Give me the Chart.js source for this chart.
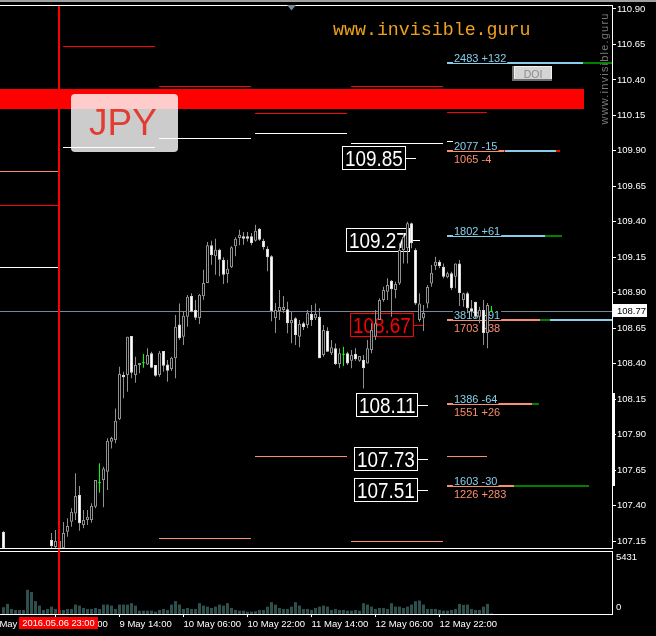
<!DOCTYPE html>
<html>
<head>
<meta charset="utf-8">
<title>USDJPY H1</title>
<script src="https://cdn.jsdelivr.net/npm/chart.js@4.4.1/dist/chart.umd.min.js"></script>
<style>
  html, body { margin: 0; padding: 0; background: #000; }
  #wrap { position: relative; width: 656px; height: 636px; overflow: hidden; background: #000; }
  canvas { position: absolute; left: 0; }
  #main { top: 0; }
  #vol { top: 549px; }
</style>
</head>
<body>
<div id="wrap">
  <canvas id="main" width="656" height="549"></canvas>
  <canvas id="vol" width="656" height="87"></canvas>
</div>
<script>
// bar 0 = 2016.05.06 23:00 (H1), first stored bar is -14
const FIRST_BAR = -14;

const opens = [107.214, null, null, null, null, null, null, null, null, null, null, null, 107.157, 107.108,
  107.094, 107.101, 107.216, 107.286, 107.345, 107.474, 107.263, 107.298, 107.298, 107.392,
  107.561, 107.580, 107.638, 107.850, 107.862, 108.008, 108.320, 108.320, 108.595, 108.320,
  108.391, 108.407, 108.395, 108.473, 108.391, 108.320, 108.489, 108.395, 108.362, 108.438,
  108.677, 108.590, 108.731, 108.877, 108.778, 108.722, 108.875, 108.968, 109.234, 109.157,
  109.203, 109.133, 109.032, 109.079, 109.227, 109.286, 109.298, 109.298, 109.298, 109.267,
  109.351, 109.267, 109.210, 109.157, 108.722, 108.771, 108.778, 108.783, 108.685, 108.720,
  108.590, 108.685, 108.673, 108.750, 108.720, 108.731, 108.461, 108.632, 108.473, 108.508,
  108.398, 108.466, 108.473, 108.421, 108.468, 108.421, 108.426, 108.402, 108.496, 108.590,
  108.708, 108.849, 108.907, 108.985, 108.919, 108.966, 109.201, 109.213, 109.389, 109.201,
  108.708, 108.720, 108.825, 108.966, 109.088, 109.119, 109.083, 109.009, 109.037, 109.013,
  109.107, 108.849, 108.896, 108.790, 108.837, 108.731, 108.778, 108.616, 108.770];
const highs = [107.221, null, null, null, null, null, null, null, null, null, null, null, 107.206, 107.228,
  107.185, 107.284, 107.310, 107.381, 107.627, 107.538, 107.369, 107.369, 107.416, 107.580,
  107.698, 107.674, 107.874, 107.885, 108.085, 108.379, 108.343, 108.590, 108.595, 108.449,
  108.405, 108.468, 108.508, 108.484, 108.391, 108.489, 108.489, 108.426, 108.449, 108.743,
  108.825, 108.771, 108.884, 108.896, 108.849, 108.891, 109.062, 109.257, 109.267, 109.281,
  109.210, 109.150, 109.133, 109.227, 109.291, 109.344, 109.328, 109.328, 109.321, 109.379,
  109.356, 109.281, 109.227, 109.164, 108.827, 108.919, 108.877, 108.837, 108.766, 108.727,
  108.708, 108.696, 108.778, 108.814, 108.825, 108.790, 108.673, 108.656, 108.567, 108.543,
  108.508, 108.520, 108.484, 108.496, 108.508, 108.454, 108.461, 108.567, 108.685, 108.778,
  108.861, 108.943, 109.002, 108.990, 108.978, 109.248, 109.319, 109.401, 109.394, 109.213,
  108.896, 108.814, 108.954, 109.095, 109.154, 109.131, 109.107, 109.048, 109.048, 109.107,
  109.131, 108.900, 108.907, 108.849, 108.837, 108.802, 108.849, 108.827, 108.806];
const lows = [107.094, null, null, null, null, null, null, null, null, null, null, null, 107.087, 107.094,
  107.073, 107.087, 107.180, 107.251, 107.298, 107.223, 107.240, 107.263, 107.279, 107.381,
  107.491, 107.388, 107.510, 107.803, 107.839, 108.003, 108.156, 108.202, 108.297, 108.266,
  108.332, 108.372, 108.391, 108.367, 108.308, 108.308, 108.343, 108.273, 108.348, 108.297,
  108.567, 108.532, 108.660, 108.762, 108.708, 108.680, 108.851, 108.968, 109.098, 109.027,
  109.016, 108.962, 108.968, 109.074, 109.157, 109.234, 109.238, 109.262, 109.234, 109.262,
  109.267, 109.203, 109.051, 108.699, 108.616, 108.708, 108.757, 108.614, 108.544, 108.531,
  108.515, 108.637, 108.649, 108.666, 108.708, 108.438, 108.449, 108.484, 108.461, 108.391,
  108.367, 108.383, 108.391, 108.367, 108.421, 108.414, 108.226, 108.402, 108.473, 108.567,
  108.708, 108.837, 108.849, 108.731, 108.861, 108.954, 109.107, 109.107, 109.213, 108.813,
  108.696, 108.630, 108.790, 108.943, 109.060, 109.072, 109.002, 109.002, 108.919, 108.931,
  108.807, 108.802, 108.755, 108.731, 108.720, 108.685, 108.532, 108.509, 108.765];
const closes = [107.101, null, null, null, null, null, null, null, null, null, null, null, 107.115, 107.150,
  107.150, 107.206, 107.256, 107.357, 107.467, 107.275, 107.298, 107.321, 107.399, 107.580,
  107.561, 107.662, 107.857, 107.876, 107.998, 108.327, 108.304, 108.590, 108.336, 108.391,
  108.405, 108.407, 108.461, 108.372, 108.315, 108.477, 108.386, 108.350, 108.442, 108.660,
  108.579, 108.738, 108.872, 108.766, 108.724, 108.886, 108.968, 109.234, 109.164, 109.203,
  109.133, 109.027, 109.069, 109.220, 109.281, 109.309, 109.281, 109.281, 109.250, 109.337,
  109.274, 109.220, 109.150, 108.769, 108.778, 108.799, 108.799, 108.685, 108.708, 108.602,
  108.680, 108.656, 108.759, 108.708, 108.750, 108.438, 108.637, 108.484, 108.515, 108.398,
  108.473, 108.466, 108.402, 108.461, 108.431, 108.454, 108.367, 108.508, 108.637, 108.685,
  108.849, 108.919, 108.954, 108.924, 108.962, 109.201, 109.295, 109.389, 109.248, 108.825,
  108.825, 108.757, 108.940, 109.041, 109.119, 109.088, 109.013, 109.037, 108.931, 109.107,
  108.898, 108.896, 108.790, 108.766, 108.731, 108.778, 108.616, 108.814, 108.770];
const volumes = [584, 872, 436, 349, 349, 349, 2093, 1892, 1107, 724, 349, 436, 637, 436,
  349, 349, 436, 436, 811, 724, 523, 436, 436, 523,
  436, 811, 811, 724, 436, 811, 811, 811, 933, 724,
  288, 288, 288, 288, 200, 349, 436, 349, 811, 1107,
  811, 436, 523, 436, 436, 933, 724, 637, 523, 637,
  811, 724, 933, 523, 349, 288, 288, 200, 200, 235,
  349, 349, 637, 1020, 811, 523, 436, 436, 637, 1020,
  724, 436, 436, 349, 523, 637, 724, 637, 349, 436,
  349, 349, 288, 288, 349, 288, 933, 811, 637, 436,
  523, 523, 436, 933, 637, 637, 523, 637, 811, 1107,
  1160, 811, 436, 436, 436, 349, 288, 288, 349, 436,
  872, 785, 811, 436, 349, 349, 637, 872, 61];

const priceTicks = [107.15, 107.40, 107.65, 107.90, 108.15, 108.40, 108.65, 108.90,
  109.15, 109.40, 109.65, 109.90, 110.15, 110.40, 110.65, 110.90];
const timeTicks = [-17, -1, 15, 31, 47, 63, 79, 95];
const timeLabels = ['6 May 06:00', '6 May 22:00', '9 May 14:00', '10 May 06:00',
  '10 May 22:00', '11 May 14:00', '12 May 06:00', '12 May 22:00'];
const lastPrice = 108.77;
const volMax = 5431;
const markerBar = 0;
const markerLabel = '2016.05.06 23:00';

// daily levels (one per session)
const dayFirst = [-23, 1, 25, 49, 73, 97];
const dayLast = [0, 24, 48, 72, 96, 107];
const redLevels = [109.518, 110.637, 110.355, 110.160, 110.355, 110.169];
const whiteLevels = [109.079, 109.927, 109.990, 110.024, 109.953, 109.964];
const salmonLevels = [109.756, null, 107.169, 107.747, 107.148, 107.747];

// option open interest by strike
const oiStrikes = [110.517, 109.901, 109.302, 108.710, 108.118, 107.538];
const callOI = [2483, 2077, 1802, 3813, 1386, 1603];
const callChg = [132, -15, 61, 91, -64, -30];
const putOI = [null, 1065, null, 1703, 1551, 1226];
const putChg = [null, -4, null, 38, 26, 283];

// price marks
const markPrices = [109.85, 109.27, 108.67, 108.11, 107.73, 107.51];
const markBars = [89, 90, 91, 92, 92, 92];
const hitPrice = 108.67;

const zoneHigh = 110.336, zoneLow = 110.195, zoneEndBar = 131;

// view
const X_MIN = -14.875, X_MAX = 138.125;
const Y_MIN = 107.101, Y_MAX = 110.928;
const OI_START_BAR = 97;        // OI histogram grows to the right from this bar
const OI_BARS_PER_LOT = 0.01365;
const CHG_GAIN = 4.85;

const SKY = '#87ceeb', SALMON = '#fa8e6e', GREEN = '#008000', RED = '#ff0000', LIME = '#00ff00';
const FONT = '"Liberation Sans", Arial, sans-serif';
Chart.defaults.font.family = FONT;
Chart.defaults.color = '#fff';

const barIndex = opens.map((_, k) => FIRST_BAR + k);

const wickData = [], dojiWickData = [], bullData = [], bearData = [], dojiData = [];
barIndex.forEach((x, k) => {
  if (opens[k] === null) return;
  const doji = opens[k] === closes[k];
  (doji ? dojiWickData : wickData).push({ x, y: [lows[k], highs[k]] });
  if (doji) dojiData.push({ x, y: opens[k] });
  else (closes[k] > opens[k] ? bullData : bearData).push({ x, y: [opens[k], closes[k]] });
});

const datasets = [
  { type: 'bar', label: 'wicks', data: wickData, backgroundColor: '#909090',
    barThickness: 1, grouped: false, inflateAmount: 0, borderWidth: 0, order: 10 },
  { type: 'bar', label: 'dojiWicks', data: dojiWickData, backgroundColor: LIME,
    barThickness: 1, grouped: false, inflateAmount: 0, borderWidth: 0, order: 9 },
  { type: 'bar', label: 'bear', data: bearData, backgroundColor: '#ffffff', borderColor: '#d8d8d8',
    borderWidth: 1, borderSkipped: false, barThickness: 3, grouped: false, inflateAmount: 0, order: 8 },
  { type: 'bar', label: 'bull', data: bullData, backgroundColor: '#000000', borderColor: '#909090',
    borderWidth: 1, borderSkipped: false, barThickness: 3, grouped: false, inflateAmount: 0, order: 8 },
  { type: 'line', label: 'doji', data: dojiData, showLine: false, pointStyle: 'line',
    pointRadius: 1.5, pointBorderColor: LIME, borderColor: LIME, pointBorderWidth: 1, order: 7 }
];

function signed(v) { return v > 0 ? '+' + v : String(v); }
function oiBar(lots) { return OI_START_BAR + lots * OI_BARS_PER_LOT; }

// horizontal level from data units, snapped to whole pixels
function hline(ctx, a, x0, x1, yPx, color, width) {
  const l = Math.max(a.left, Math.floor(x0));
  const r = Math.min(a.right, Math.floor(x1));
  if (r <= l) return;
  ctx.fillStyle = color;
  ctx.fillRect(l, Math.round(yPx - width / 2), r - l, width);
}

function oiLabel(ctx, text, tx, base, color) {
  const w = ctx.measureText(text).width;
  ctx.fillStyle = '#000';
  ctx.fillRect(tx - 1, base - 10, w + 2, 11);
  ctx.fillStyle = color;
  ctx.fillText(text, tx, base);
}

function priceMark(ctx, xPx, yPx, text, color) {
  ctx.font = '22px ' + FONT;
  const w = Math.round(ctx.measureText(text).width * 0.86 + 6);
  const cy = Math.round(yPx);
  const right = Math.round(xPx) - 10;
  const left = right - w;
  const top = cy - 12;
  ctx.fillStyle = '#000';
  ctx.fillRect(left, top, w, 24);
  ctx.strokeStyle = color;
  ctx.lineWidth = 1;
  ctx.strokeRect(left + 0.5, top + 0.5, w - 1, 23);
  ctx.beginPath();
  ctx.moveTo(right, cy + 0.5);
  ctx.lineTo(Math.round(xPx), cy + 0.5);
  ctx.stroke();
  ctx.save();
  ctx.translate(left + 3, top + 20);
  ctx.scale(0.86, 1);
  ctx.fillStyle = color;
  ctx.textBaseline = 'alphabetic';
  ctx.fillText(text, 0, 0);
  ctx.restore();
}

const mainDecor = {
  id: 'mainDecor',
  beforeDatasetsDraw(chart) {
    const { ctx, chartArea: a, scales: { x, y } } = chart;
    ctx.save();
    // supply zone
    const yt = Math.round(y.getPixelForValue(zoneHigh)), yb = Math.round(y.getPixelForValue(zoneLow));
    ctx.fillStyle = RED;
    ctx.fillRect(a.left, yt, Math.round(x.getPixelForValue(zoneEndBar)) - a.left, yb - yt);
    // daily levels
    [[redLevels, RED], [whiteLevels, '#ffffff'], [salmonLevels, SALMON]].forEach(([levels, color]) => {
      levels.forEach((v, d) => {
        if (v === null) return;
        hline(ctx, a, x.getPixelForValue(dayFirst[d]), x.getPixelForValue(dayLast[d]), y.getPixelForValue(v), color, 1);
      });
    });
    // last price
    hline(ctx, a, a.left, a.right, y.getPixelForValue(lastPrice), '#778899', 1);
    // open interest bars
    const px = lots => x.getPixelForValue(oiBar(lots));
    oiStrikes.forEach((s, k) => {
      const py = y.getPixelForValue(s);
      const c1 = callOI[k] + callChg[k] * CHG_GAIN;
      hline(ctx, a, px(0), px(callOI[k]), py, SKY, 2);
      hline(ctx, a, px(Math.min(callOI[k], c1)), px(Math.max(callOI[k], c1)), py, callChg[k] >= 0 ? GREEN : RED, 2);
      if (putOI[k] === null) return;
      const p1 = putOI[k] + putChg[k] * CHG_GAIN;
      hline(ctx, a, px(0), px(putOI[k]), py, SALMON, 2);
      hline(ctx, a, px(Math.min(putOI[k], p1)), px(Math.max(putOI[k], p1)), py, putChg[k] >= 0 ? GREEN : RED, 2);
    });
    ctx.restore();
  },
  beforeDatasetDraw(chart, args) {
    if (chart.data.datasets[args.index].label !== 'wicks') return;
    const { ctx, scales: { x, y } } = chart;
    ctx.save();
    markPrices.forEach((p, k) => {
      priceMark(ctx, x.getPixelForValue(markBars[k]), y.getPixelForValue(p), p.toFixed(2), p === hitPrice ? RED : '#ffffff');
    });
    const tx = Math.round(x.getPixelForValue(oiBar(0))) + 6;
    ctx.font = '11px ' + FONT;
    ctx.textBaseline = 'alphabetic';
    oiStrikes.forEach((s, k) => {
      const ly = Math.round(y.getPixelForValue(s));
      oiLabel(ctx, callOI[k] + ' ' + signed(callChg[k]), tx, ly - 1, SKY);
      if (putOI[k] !== null) oiLabel(ctx, putOI[k] + ' ' + signed(putChg[k]), tx, ly + 12, SALMON);
    });
    ctx.restore();
  },
  afterDatasetsDraw(chart) {
    const { ctx, chartArea: a, scales: { x, y } } = chart;
    ctx.save();
    // JPY tag
    ctx.fillStyle = 'rgba(255,255,255,0.8)';
    ctx.beginPath();
    ctx.roundRect(71, 94, 107, 58, 4);
    ctx.fill();
    ctx.fillStyle = '#e23b32';
    ctx.font = '37px ' + FONT;
    ctx.textBaseline = 'alphabetic';
    ctx.fillText('JPY', 89, 135);
    // site name
    ctx.fillStyle = '#eea21a';
    ctx.font = '18.3px "Liberation Mono", monospace';
    ctx.fillText('www.invisible.guru', 333, 35);
    // vertical watermark
    ctx.save();
    ctx.translate(607.5, 124.5);
    ctx.rotate(-Math.PI / 2);
    ctx.fillStyle = '#7a7a7a';
    ctx.font = '11px ' + FONT;
    ctx.letterSpacing = '1.2px';
    ctx.fillText('www.invisible.guru', 0, 0);
    ctx.restore();
    // DOI button
    ctx.fillStyle = '#707070';
    ctx.fillRect(512, 66, 40, 15);
    ctx.fillStyle = '#f0f0f0';
    ctx.fillRect(514, 66, 38, 13);
    ctx.fillStyle = '#d4d4d4';
    ctx.fillRect(515, 67, 36, 12);
    ctx.fillStyle = '#8a8a8a';
    ctx.font = '10.5px ' + FONT;
    ctx.textAlign = 'center';
    ctx.fillText('DOI', 533, 78);
    ctx.textAlign = 'left';
    // session marker
    const mx = Math.round(x.getPixelForValue(markerBar));
    ctx.fillStyle = RED;
    ctx.fillRect(mx - 2, a.top, 2, chart.height - a.top);
    // frame
    ctx.fillStyle = '#ffffff';
    ctx.fillRect(0, a.top, a.right, 1);
    ctx.fillRect(0, a.bottom, a.right + 1, 1);
    ctx.fillRect(a.right, 393, 3, 93);
    ctx.fillStyle = '#a0a0a0';
    ctx.fillRect(0, 0, chart.width, 2);
    // shift marker
    ctx.fillStyle = '#778899';
    ctx.beginPath();
    ctx.moveTo(287, a.top);
    ctx.lineTo(296, a.top);
    ctx.lineTo(291.5, a.top + 5.5);
    ctx.closePath();
    ctx.fill();
    // last price tag
    const py = Math.round(y.getPixelForValue(lastPrice));
    ctx.fillStyle = '#ffffff';
    ctx.fillRect(a.right + 1, py - 7, 34, 13);
    ctx.fillStyle = '#000';
    ctx.font = '9.5px ' + FONT;
    ctx.textBaseline = 'middle';
    ctx.fillText(lastPrice.toFixed(2), a.right + 5, py);
    ctx.restore();
  }
};

new Chart(document.getElementById('main'), {
  type: 'bar',
  data: { datasets },
  options: {
    responsive: false, animation: false, devicePixelRatio: 1, events: [],
    layout: { autoPadding: false, padding: { top: 5, bottom: 1, left: 0, right: 0 } },
    plugins: { legend: { display: false }, tooltip: { enabled: false } },
    scales: {
      x: { type: 'linear', display: false, min: X_MIN, max: X_MAX, offset: false },
      y: {
        type: 'linear', position: 'right', min: Y_MIN, max: Y_MAX,
        afterBuildTicks: s => { s.ticks = priceTicks.map(v => ({ value: v })); },
        afterFit: s => { s.width = 44; s.paddingTop = 0; s.paddingBottom = 0; },
        ticks: { color: '#fff', font: { size: 9.5 }, padding: 1, callback: v => v.toFixed(2) },
        grid: { drawOnChartArea: false, drawTicks: true, tickLength: 4, color: '#fff' },
        border: { display: true, color: '#fff' }
      }
    }
  },
  plugins: [mainDecor]
});

const volDecor = {
  id: 'volDecor',
  afterDraw(chart) {
    const { ctx, chartArea: a, scales: { x } } = chart;
    ctx.save();
    ctx.fillStyle = '#ffffff';
    ctx.fillRect(0, a.top, a.right + 1, 1);
    ctx.fillRect(0, a.bottom, a.right + 1, 1);
    ctx.fillRect(a.right, a.top, 1, a.bottom - a.top + 1);
    ctx.font = '9.5px ' + FONT;
    ctx.textBaseline = 'middle';
    ctx.fillText(String(volMax), a.right + 4, a.top + 6);
    ctx.fillText('0', a.right + 4, a.bottom - 6.5);
    const mx = Math.round(x.getPixelForValue(markerBar));
    ctx.fillStyle = RED;
    ctx.fillRect(mx - 2, 0, 2, a.bottom);
    ctx.fillRect(mx - 41, a.bottom + 3, 79, 12);
    ctx.fillStyle = '#ffffff';
    ctx.font = '9.3px ' + FONT;
    ctx.textAlign = 'center';
    ctx.fillText(markerLabel, mx - 1.5, a.bottom + 9.5);
    ctx.restore();
  }
};

new Chart(document.getElementById('vol'), {
  type: 'bar',
  data: {
    datasets: [{
      data: barIndex.map((x, k) => ({ x, y: volumes[k] })),
      backgroundColor: '#2f4f4f', barThickness: 3, inflateAmount: 0, borderWidth: 0
    }]
  },
  options: {
    responsive: false, animation: false, devicePixelRatio: 1, events: [],
    layout: { autoPadding: false, padding: { top: 2, right: 44, left: 0, bottom: 0 } },
    plugins: { legend: { display: false }, tooltip: { enabled: false } },
    scales: {
      x: {
        type: 'linear', min: X_MIN, max: X_MAX, offset: false, position: 'bottom',
        afterBuildTicks: s => { s.ticks = timeTicks.map(v => ({ value: v })); },
        afterFit: s => { s.height = 22; s.paddingLeft = 0; s.paddingRight = 0; },
        ticks: { color: '#fff', font: { size: 9.5 }, padding: 2, align: 'start', autoSkip: false,
          maxRotation: 0, callback: v => timeLabels[timeTicks.indexOf(v)] },
        grid: { drawOnChartArea: false, drawTicks: true, tickLength: 3, color: '#fff', offset: false },
        border: { display: false }
      },
      y: { display: false, min: 0, max: volMax }
    }
  },
  plugins: [volDecor]
});
</script>
</body>
</html>
